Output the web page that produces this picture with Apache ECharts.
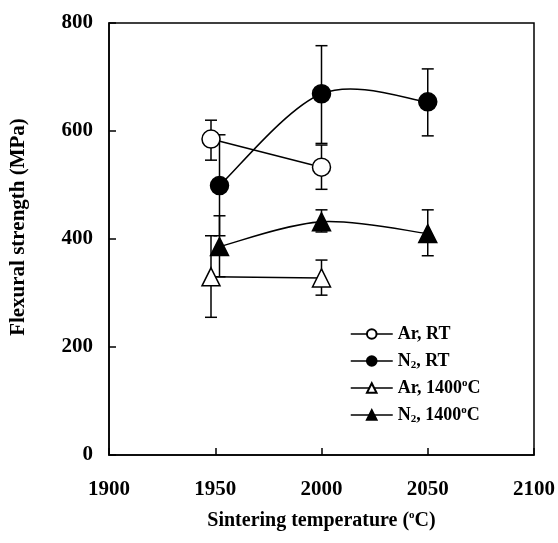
<!DOCTYPE html>
<html>
<head>
<meta charset="utf-8">
<script src="https://cdn.jsdelivr.net/npm/echarts@6/dist/echarts.min.js"></script>
<style>html,body{margin:0;padding:0;background:#fff;}#c{width:558px;height:543px;}</style>
</head>
<body>
<div id="c"></div>
<script>
// Data
const xTicks = [1900, 1950, 2000, 2050, 2100];
const yTicks = [0, 200, 400, 600, 800];

const arTemps = [1948, 2000];
const n2Temps = [1952, 2000, 2050];

const arRT = [585, 533];
const arRTLow = [546, 492];
const arRTHigh = [620, 574];

const n2RT = [499, 669, 654];
const n2RTLow = [406, 577, 591];
const n2RTHigh = [593, 758, 715];

const ar1400 = [330, 328];
const ar1400Low = [255, 296];
const ar1400High = [406, 361];

const n21400 = [386, 432, 410];
const n21400Low = [330, 413, 369];
const n21400High = [443, 454, 454];

const seriesNames = ['Ar, RT', 'N2, RT', 'Ar, 1400oC', 'N2, 1400oC'];

const FONT = '"Liberation Serif", "Times New Roman", serif';

function pts(xs, ys) { return xs.map((x, i) => [x, ys[i]]); }
function errs(xs, lo, hi) { return xs.map((x, i) => [x, lo[i], hi[i]]); }

function errSeries(data) {
  return {
    type: 'custom',
    z: 1,
    silent: true,
    data: data,
    renderItem: function (params, api) {
      const x = api.value(0), lo = api.value(1), hi = api.value(2);
      const a = api.coord([x, lo]);
      const b = api.coord([x, hi]);
      const w = 6;
      const st = { stroke: '#000', lineWidth: 1.5 };
      return {
        type: 'group',
        children: [
          { type: 'line', shape: { x1: a[0], y1: a[1], x2: b[0], y2: b[1] }, style: st },
          { type: 'line', shape: { x1: a[0] - w, y1: a[1], x2: a[0] + w, y2: a[1] }, style: st },
          { type: 'line', shape: { x1: b[0] - w, y1: b[1], x2: b[0] + w, y2: b[1] }, style: st }
        ]
      };
    }
  };
}

// Smooth (Catmull-Rom style, like spreadsheet smoothed lines) curve through data points
function curveSeries(xs, ys) {
  return {
    type: 'custom',
    z: 2,
    silent: true,
    data: pts(xs, ys),
    renderItem: function (params, api) {
      const i = params.dataIndex;
      const n = xs.length;
      if (i >= n - 1) return { type: 'group', children: [] };
      const P = xs.map((x, k) => api.coord([x, ys[k]]));
      const p0 = P[Math.max(i - 1, 0)], p1 = P[i], p2 = P[i + 1], p3 = P[Math.min(i + 2, n - 1)];
      const t = 1 / 6;
      const c1 = [p1[0] + (p2[0] - p0[0]) * t, p1[1] + (p2[1] - p0[1]) * t];
      const c2 = [p2[0] - (p3[0] - p1[0]) * t, p2[1] - (p3[1] - p1[1]) * t];
      return {
        type: 'bezierCurve',
        shape: { x1: p1[0], y1: p1[1], cpx1: c1[0], cpy1: c1[1], cpx2: c2[0], cpy2: c2[1], x2: p2[0], y2: p2[1] },
        style: { stroke: '#000', lineWidth: 1.5, fill: null }
      };
    }
  };
}

function lineSeries(name, data, symbol, filled, showLine) {
  return {
    name: name,
    type: 'line',
    z: 3,
    data: data,
    smooth: false,
    symbol: symbol,
    symbolSize: 18,
    showAllSymbol: true,
    lineStyle: { color: '#000', width: 1.5, opacity: showLine ? 1 : 0 },
    itemStyle: { color: filled ? '#000' : '#fff', borderColor: '#000', borderWidth: 1.5 },
    emphasis: { disabled: true }
  };
}

const legendLabels = {
  'Ar, RT': 'Ar, RT',
  'N2, RT': 'N{sub|2}, RT',
  'Ar, 1400oC': 'Ar, 1400{sup|o}C',
  'N2, 1400oC': 'N{sub|2}, 1400{sup|o}C'
};

const richText = {
  sub: { fontSize: 11, fontFamily: FONT, fontWeight: 'bold', color: '#000', verticalAlign: 'bottom', lineHeight: 20 },
  sup: { fontSize: 11, fontFamily: FONT, fontWeight: 'bold', color: '#000', verticalAlign: 'top', lineHeight: 20 }
};

const legendLine = { color: '#000', width: 1.5, opacity: 1 };

const chart = echarts.init(document.getElementById('c'), null, { renderer: 'canvas' });
chart.setOption({
  animation: false,
  backgroundColor: '#fff',
  grid: { left: 108, right: 23, top: 23, bottom: 88, show: true, borderColor: '#000', borderWidth: 1.5, containLabel: false },
  legend: {
    data: seriesNames.map(n => ({ name: n, lineStyle: legendLine })),
    orient: 'vertical',
    left: 345,
    top: 319,
    itemWidth: 42,
    itemHeight: 12,
    itemGap: 7,
    selectedMode: false,
    formatter: function (n) { return legendLabels[n]; },
    textStyle: { fontFamily: FONT, fontWeight: 'bold', fontSize: 18, color: '#000', lineHeight: 20, rich: richText }
  },
  xAxis: {
    type: 'value',
    min: xTicks[0],
    max: xTicks[xTicks.length - 1],
    interval: 50,
    name: 'Sintering temperature ({sup|o}C)',
    nameLocation: 'middle',
    nameGap: 55,
    nameTextStyle: { fontFamily: FONT, fontWeight: 'bold', fontSize: 20, color: '#000', lineHeight: 21, rich: richText },
    axisLine: { show: true, lineStyle: { color: '#000', width: 1.5 } },
    axisTick: { show: true, inside: true, length: 7, lineStyle: { color: '#000', width: 1.5 } },
    axisLabel: { margin: 24, fontFamily: FONT, fontWeight: 'bold', fontSize: 21, color: '#000', formatter: v => String(v) },
    splitLine: { show: false }
  },
  yAxis: {
    type: 'value',
    min: yTicks[0],
    max: yTicks[yTicks.length - 1],
    interval: 200,
    name: 'Flexural strength (MPa)',
    nameLocation: 'middle',
    nameGap: 80,
    nameTextStyle: { fontFamily: FONT, fontWeight: 'bold', fontSize: 21, color: '#000', padding: [0, 0, 0, 24] },
    axisLine: { show: true, lineStyle: { color: '#000', width: 1.5 } },
    axisTick: { show: true, inside: true, length: 7, lineStyle: { color: '#000', width: 1.5 } },
    axisLabel: { margin: 16, fontFamily: FONT, fontWeight: 'bold', fontSize: 21, color: '#000', formatter: v => String(v) },
    splitLine: { show: false }
  },
  series: [
    errSeries(errs(arTemps, arRTLow, arRTHigh)),
    errSeries(errs(n2Temps, n2RTLow, n2RTHigh)),
    errSeries(errs(arTemps, ar1400Low, ar1400High)),
    errSeries(errs(n2Temps, n21400Low, n21400High)),
    curveSeries(n2Temps, n2RT),
    curveSeries(n2Temps, n21400),
    lineSeries(seriesNames[0], pts(arTemps, arRT), 'circle', false, true),
    lineSeries(seriesNames[1], pts(n2Temps, n2RT), 'circle', true, false),
    lineSeries(seriesNames[2], pts(arTemps, ar1400), 'triangle', false, true),
    lineSeries(seriesNames[3], pts(n2Temps, n21400), 'triangle', true, false)
  ]
});
</script>
</body>
</html>
